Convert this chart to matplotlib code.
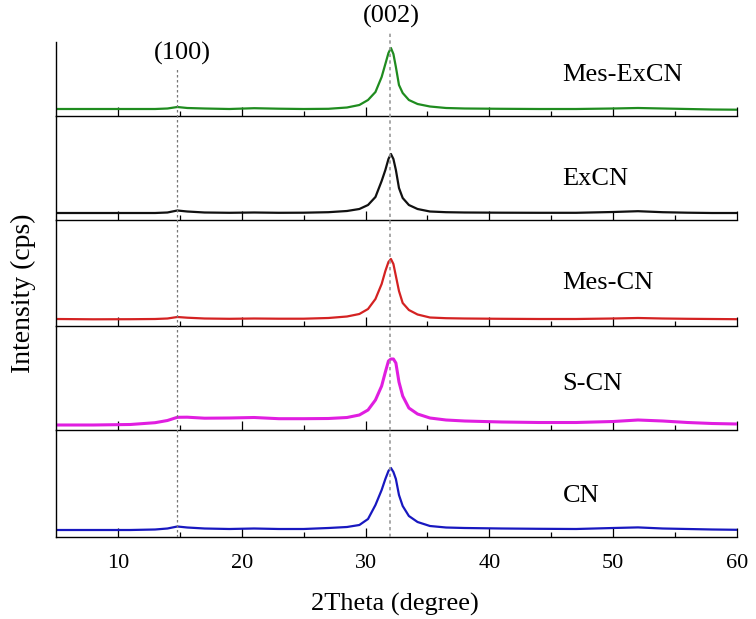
import matplotlib
matplotlib.use('Agg')
import matplotlib.pyplot as plt

plt.rcParams['font.family'] = ['Liberation Serif', 'DejaVu Serif']

# 2theta positions (degree) shared by all patterns
x_deg = [5, 8, 11, 13, 14, 14.8, 15.6, 17, 19, 21, 23, 25, 27, 28.5, 29.5, 30.2,
         30.8, 31.3, 31.6, 31.85, 32.05, 32.25, 32.45, 32.7, 33.0, 33.5, 34.2,
         35.2, 36.5, 38, 41, 44, 47, 50, 52, 54, 56, 58, 60]

# intensities (arb. units, offset within each panel)
mes_excn = [7, 7, 7, 7, 7.5, 9, 8, 7.5, 7, 7.8, 7.3, 7, 7.2, 8.5, 11, 16,
            24, 39, 52, 63, 68, 62, 49, 31, 23, 16, 12,
            9.5, 8, 7.5, 7.2, 7, 7, 7.5, 8, 7.5, 7, 6.5, 6.3]
excn = [7, 7, 7, 7, 7.5, 9.5, 8.5, 7.5, 7.2, 7.5, 7.2, 7.3, 7.8, 9, 11, 15,
        23, 39, 50, 61, 66, 61, 50, 32, 22, 15, 11,
        8.5, 7.8, 7.5, 7.3, 7.2, 7.2, 8, 8.8, 7.8, 7.3, 7, 7]
mes_cn = [7, 6.7, 6.8, 7, 7.5, 9, 8.3, 7.5, 7.2, 7.5, 7.3, 7.3, 8, 9.5, 12, 17,
          27, 42, 55, 64, 67, 62, 50, 35, 23, 16, 11.5,
          8.5, 7.8, 7.5, 7.2, 7, 7, 7.5, 8, 7.5, 7.2, 7, 6.8]
s_cn = [5, 5, 5.5, 7.3, 9.5, 12.7, 12.8, 11.8, 12, 12.5, 11.3, 11.3, 11.5, 12.5, 15, 20,
        30, 44, 58, 69, 71, 71, 67, 48, 34, 22, 16,
        12, 10, 9, 8, 7.5, 7.5, 8.5, 10, 9, 7.5, 6.5, 6]
cn = [7, 7, 7, 7.5, 8.5, 10.5, 9.5, 8.5, 8, 8.5, 8, 8, 9, 10, 12, 18,
      32, 47, 58, 66, 69, 65, 58, 42, 31, 21, 15,
      11, 9.5, 9, 8.5, 8.2, 8, 9, 9.6, 8.5, 8, 7.5, 7.2]

names = ['Mes-ExCN', 'ExCN', 'Mes-CN', 'S-CN', 'CN']
series = [mes_excn, excn, mes_cn, s_cn, cn]
colors = ['#1f8c1f', '#111111', '#d42222', '#e01ee0', '#1818c0']
widths = [1.6, 1.6, 1.6, 2.2, 1.6]

# layout in pixels
W, H = 756, 619
left, right = 56, 737
tops = [42, 116, 220, 326, 430]
bots = [116, 220, 326, 430, 537]
label_off = [35, 35, 37, 40, 35]

fig = plt.figure(figsize=(W / 100, H / 100), dpi=100)

for i in range(5):
    ax = fig.add_axes([left / W, 1 - bots[i] / H, (right - left) / W, (bots[i] - tops[i]) / H])
    ax.patch.set_alpha(0)
    ax.plot(x_deg, series[i], color=colors[i], lw=widths[i])
    ax.set_xlim(5, 60)
    ax.set_ylim(0, bots[i] - tops[i])
    ax.spines['top'].set_visible(False)
    ax.spines['right'].set_visible(False)
    ax.spines['left'].set_linewidth(1.0)
    ax.spines['bottom'].set_linewidth(1.0)
    ax.set_yticks([])
    ax.set_xticks([10, 20, 30, 40, 50, 60])
    ax.set_xticks([15, 25, 35, 45, 55], minor=True)
    ax.tick_params(axis='x', which='major', direction='in', length=6.5, width=0.9,
                   labelsize=16, pad=12)
    ax.tick_params(axis='x', which='minor', direction='in', length=3.5, width=0.9)
    if i < 4:
        ax.tick_params(axis='x', labelbottom=False)
    ax.text(45.9, label_off[i], names[i], fontsize=19, ha='left', va='baseline')

# overlay for reference lines and plane labels
ov = fig.add_axes([left / W, 1 - 537 / H, (right - left) / W, 537 / H])
ov.set_xlim(5, 60)
ov.set_ylim(0, 537)
ov.axis('off')
ov.vlines(14.8, 0, 537 - 69, colors='#777777', linestyles=(0, (2, 2)), lw=0.9)
ov.vlines(32.0, 0, 537 - 33, colors='#999999', linestyles=(0, (2, 2)), lw=1.2)
ov.text(15.2, 537 - 53, '(100)', fontsize=19, ha='center', va='center')
ov.text(32.1, 537 - 16, '(002)', fontsize=19, ha='center', va='center')

fig.text(395 / W, 1 - 604 / H, '2Theta (degree)', fontsize=19, ha='center', va='center')
fig.text(23 / W, 1 - 293 / H, 'Intensity (cps)', fontsize=20, rotation=90,
         ha='center', va='center')

fig.savefig('out.png', dpi=100)
